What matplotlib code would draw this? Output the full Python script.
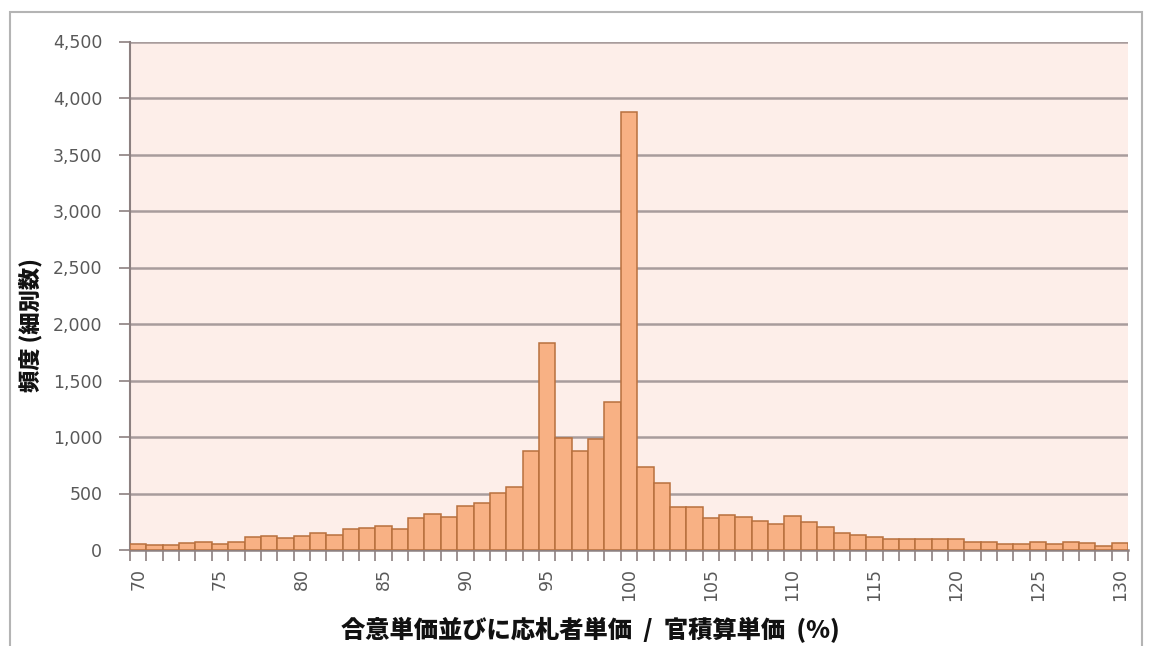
import matplotlib.pyplot as plt
import numpy as np
from matplotlib.patches import Rectangle
from matplotlib.ticker import FuncFormatter

plt.rcParams["font.family"] = ["Noto Sans CJK JP", "DejaVu Sans"]

# price ratio bins (%) and counts per bin
ratio_bins = list(range(70, 131))
counts = [
    50, 45, 48, 60, 75, 55, 75, 112, 124, 104,
    124, 147, 135, 186, 192, 212, 186, 280, 318, 295,
    392, 419, 505, 555, 880, 1830, 990, 880, 980, 1310,
    3880, 737, 596, 380, 383, 280, 310, 295, 260, 227,
    301, 245, 206, 147, 133, 118, 94, 94, 94, 94,
    94, 70, 68, 55, 55, 68, 55, 68, 60, 35,
    60,
]
y_ticks = [0, 500, 1000, 1500, 2000, 2500, 3000, 3500, 4000, 4500]
x_label = "合意単価並びに応札者単価  /  官積算単価  (%)"
y_label = "頻度 (細別数)"

W, H = 1151, 646
fig = plt.figure(figsize=(W / 100, H / 100), dpi=100)
fig.patch.set_facecolor("white")

# outer chart frame
fig.add_artist(Rectangle((10 / W, -0.1), 1132 / W, 1.1 - 12 / H,
                         transform=fig.transFigure, fill=False,
                         edgecolor="#b4b4b4", linewidth=1.5))

ax = fig.add_axes([130 / W, 1 - 550 / H, 998 / W, 508.5 / H])
ax.set_facecolor("#fdeee9")

pos = np.arange(len(ratio_bins))
ax.bar(pos, counts, width=1.0, color="#f8b184", edgecolor="#b8703e",
       linewidth=1.1, zorder=3)

ax.set_xlim(-0.5, len(ratio_bins) - 0.5)
ax.set_ylim(0, 4500)
ax.set_yticks(y_ticks)
ax.yaxis.set_major_formatter(FuncFormatter(lambda v, _: f"{int(v):,}"))
ax.grid(axis="y", color="#a89c9c", linewidth=1.8, zorder=1)

# ticks on bin boundaries, labels every 5 %
ax.set_xticks(np.arange(-0.5, len(ratio_bins), 1.0))
ax.set_xticklabels([])
label_pos = [i for i, r in enumerate(ratio_bins) if r % 5 == 0]
ax.set_xticks(label_pos, minor=True)
ax.set_xticklabels([str(ratio_bins[i]) for i in label_pos], minor=True,
                   rotation=90, fontsize=12.5, color="#595959",
                   family=["DejaVu Sans"])
ax.tick_params(axis="x", which="major", length=8, color="#8c8080", width=1.2)
ax.tick_params(axis="x", which="minor", length=0, pad=13)
ax.tick_params(axis="y", length=8, color="#8c8080", width=1.2,
               labelsize=12.5, labelcolor="#595959", pad=12)
for lab in ax.get_yticklabels():
    lab.set_family(["DejaVu Sans"])

for side in ("top", "right"):
    ax.spines[side].set_visible(False)
ax.spines["left"].set_color("#8c8080")
ax.spines["left"].set_linewidth(1.5)
ax.spines["bottom"].set_color("#8c8080")
ax.spines["bottom"].set_linewidth(1.8)

fig.text(590 / W, 1 - 630 / H, x_label, ha="center", va="center",
         fontsize=17.5, fontweight=900, color="#111111")
fig.text(31 / W, 1 - 325 / H, y_label, ha="center", va="center",
         rotation=90, fontsize=16, fontweight=900, color="#111111")

fig.savefig("out.png", dpi=100)
